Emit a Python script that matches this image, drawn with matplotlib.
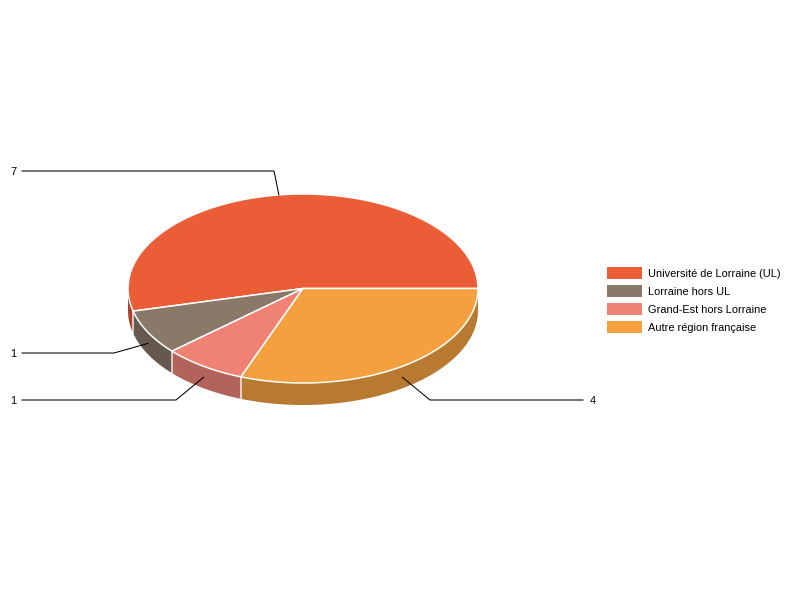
import numpy as np
import matplotlib
matplotlib.use("Agg")
import matplotlib.pyplot as plt
from matplotlib.patches import Polygon, Rectangle

categories = ["Université de Lorraine (UL)", "Lorraine hors UL", "Grand-Est hors Lorraine", "Autre région française"]
values = [7, 1, 1, 4]
top_colors = ["#EA5D37", "#8A7868", "#EF8275", "#F5A03F"]
side_colors = ["#A8432A", "#65584D", "#B2635B", "#B77A30"]

CX, CY, RX, RY, DEPTH = 303, 288.5, 175, 94.5, 22

plt.rcParams["font.family"] = ["Liberation Sans", "DejaVu Sans"]
fig = plt.figure(figsize=(8, 6), dpi=100)
ax = fig.add_axes([0, 0, 1, 1])
ax.set_xlim(0, 800)
ax.set_ylim(600, 0)
ax.axis("off")

def rim(a0, a1, dy=0):
    t = np.radians(np.linspace(a0, a1, 200))
    return np.column_stack([CX + RX * np.cos(t), CY - RY * np.sin(t) + dy])

fracs = np.array(values, float) / sum(values)
edges = np.concatenate([[0], np.cumsum(fracs) * 360])

# sides (only the front half of the ellipse is visible)
for a0, a1, c in zip(edges[:-1], edges[1:], side_colors):
    lo, hi = max(a0, 180), min(a1, 360)
    if hi > lo:
        pts = np.vstack([rim(lo, hi), rim(lo, hi, DEPTH)[::-1]])
        ax.add_patch(Polygon(pts, closed=True, fc=c, ec="none", zorder=2))
# white separators on the side
for a in edges[1:-1]:
    if 180 < a < 360:
        p = rim(a, a)[0]
        ax.plot([p[0], p[0]], [p[1], p[1] + DEPTH], color="white", lw=1.2, alpha=0.8, zorder=3)

# top faces
for a0, a1, c in zip(edges[:-1], edges[1:], top_colors):
    pts = np.vstack([[CX, CY], rim(a0, a1)])
    ax.add_patch(Polygon(pts, closed=True, fc=c, ec="white", lw=1.1, joinstyle="round", zorder=4))

# leader lines driven by slice mid-angles and label positions
label_layout = [
    ((274, 171), (22, 171), 13),
    ((114, 353), (22, 353), 13),
    ((176, 400), (22, 400), 13),
    ((430, 400), (583, 400), 593),
]
mids = (edges[:-1] + edges[1:]) / 2
for i, (m, (elbow, end, tx)) in enumerate(zip(mids, label_layout)):
    p = rim(m + (1 if i == 0 else 0), m + (1 if i == 0 else 0), DEPTH * 0.5 if 180 < m < 360 else 0)[0]
    ax.plot([p[0], elbow[0], end[0]], [p[1], elbow[1], end[1]], color="black", lw=0.75,
            zorder=5, solid_joinstyle="miter")
    ax.text(tx, end[1] + 1, str(values[i]), fontsize=7.9, ha="center", va="center", color="black", zorder=6)

# legend
for i, (lab, c) in enumerate(zip(categories, top_colors)):
    y = 273 + i * 18
    ax.add_patch(Rectangle((607, y - 6), 35, 12, fc=c, ec="none", zorder=4))
    ax.text(648, y + 1, lab, fontsize=7.9, ha="left", va="center", color="black", zorder=6)

fig.savefig("out.png", dpi=100, facecolor="white")
